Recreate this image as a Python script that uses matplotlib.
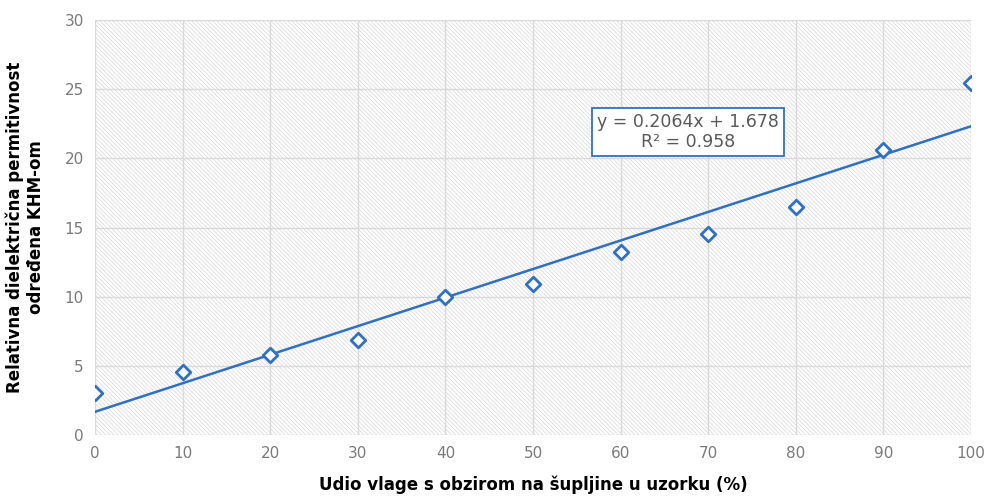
import matplotlib
matplotlib.use("Agg")
import matplotlib.pyplot as plt
from matplotlib.patches import Rectangle
import numpy as np

x_vals = [0, 10, 20, 30, 40, 50, 60, 70, 80, 90, 100]
y_vals = [3.05, 4.55, 5.78, 6.87, 9.98, 10.92, 13.23, 14.53, 16.49, 20.6, 25.45]
slope = 0.2064
intercept = 1.678
r2 = 0.958
x_ticks = [0, 10, 20, 30, 40, 50, 60, 70, 80, 90, 100]
y_ticks = [0, 5, 10, 15, 20, 25, 30]
x_label = "Udio vlage s obzirom na šupljine u uzorku (%)"
y_label = "Relativna dielektrična permitivnost\nodređena KHM-om"

blue = "#3070BE"
grey = "#7a7a7a"

plt.rcParams['hatch.linewidth'] = 0.6
fig = plt.figure(figsize=(9.87, 5.0), dpi=100)
ax = fig.add_axes([0.0963, 0.13, 0.8875, 0.83])
ax.set_facecolor("white")
ax.add_patch(Rectangle((0, 0), 1, 1, transform=ax.transAxes, facecolor="white",
                       edgecolor="#dedede", hatch="\\\\\\\\\\\\\\\\", linewidth=0, zorder=0))
ax.set_xlim(0, 100)
ax.set_ylim(0, 30)
ax.set_xticks(x_ticks)
ax.set_yticks(y_ticks)
ax.grid(True, color="#d9d9d9", linewidth=1.0, zorder=1)
ax.set_axisbelow(True)
for s in ax.spines.values():
    s.set_visible(False)
ax.tick_params(length=0, colors=grey, labelsize=11, pad=8)

xl = np.array([0, 100])
ax.plot(xl, slope * xl + intercept, color=blue, linewidth=1.8, zorder=3)
ax.scatter(x_vals, y_vals, marker="D", s=55, facecolors="white", edgecolors=blue,
           linewidths=2, zorder=4)

ax.text(67.7, 21.9, f"y = {slope}x + {intercept}\nR² = {r2}", ha="center", va="center",
        fontsize=12.5, color="#595959", linespacing=1.15,
        bbox=dict(boxstyle="square,pad=0.3", facecolor="white", edgecolor=blue, linewidth=1.3),
        zorder=5)

ax.set_xlabel(x_label, fontsize=12, fontweight="bold", labelpad=10)
ax.set_ylabel(y_label, fontsize=12, fontweight="bold", labelpad=14)

fig.savefig("out.png", dpi=100)
